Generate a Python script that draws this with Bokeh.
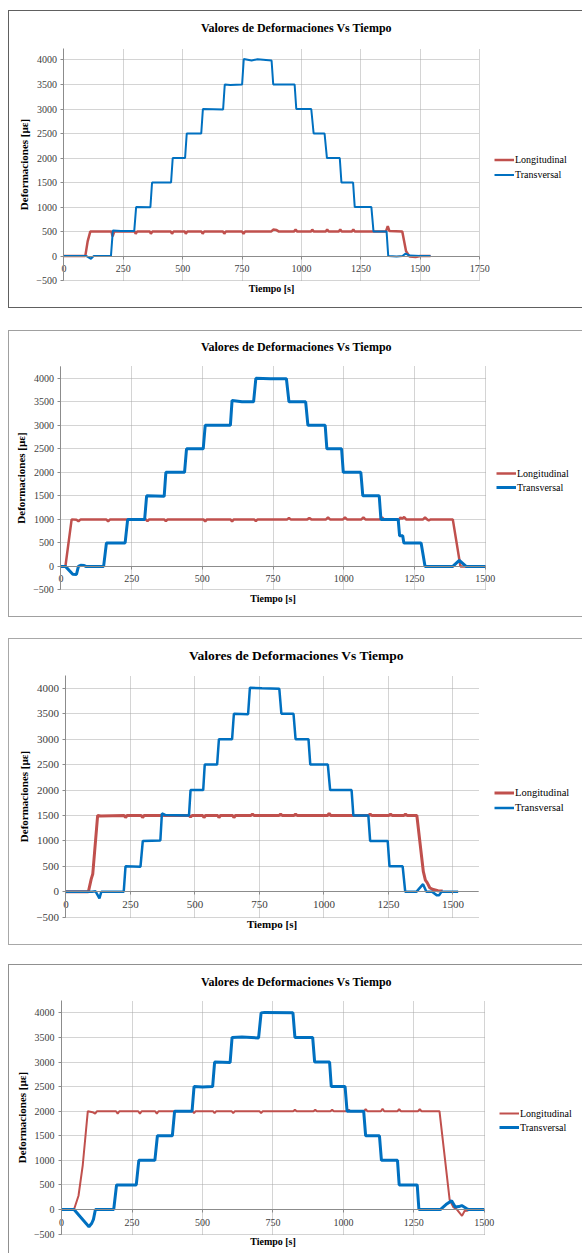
from bokeh.plotting import figure
from bokeh.models import Range1d, FixedTicker, Legend, LegendItem, Spacer
from bokeh.layouts import column, row
from bokeh.embed import file_html
from bokeh.resources import INLINE

TITLE = "Valores de Deformaciones Vs Tiempo"
X_LABEL = "Tiempo [s]"
Y_LABEL = "Deformaciones [µε]"
SERIES = ["Longitudinal", "Transversal"]
Y_TICKS = [-500, 0, 500, 1000, 1500, 2000, 2500, 3000, 3500, 4000]
X_TICKS_1 = [0, 250, 500, 750, 1000, 1250, 1500, 1750]
X_TICKS = [0, 250, 500, 750, 1000, 1250, 1500]

RED = "#C0504D"
BLUE = "#0070C0"
FONT = "Liberation Serif"

# ---------------- Panel 1 ----------------
p1_long_t = [0, 90, 100, 111, 200, 205, 212, 298, 302, 308, 362, 366, 372, 450, 455, 461, 509, 513, 519,
             579, 584, 590, 670, 675, 681, 750, 756, 762, 872, 881, 895, 905, 968, 975, 982, 1040, 1045,
             1052, 1102, 1108, 1114, 1157, 1163, 1169, 1212, 1218, 1224, 1355, 1363, 1370, 1424, 1440,
             1455, 1480, 1500, 1543]
p1_long_v = [0, 0, 300, 500, 500, 400, 500, 500, 455, 500, 500, 455, 500, 500, 455, 500, 500, 455, 500,
             500, 455, 500, 500, 455, 500, 500, 455, 500, 500, 540, 530, 500, 500, 540, 500, 500, 540,
             500, 500, 540, 500, 500, 540, 500, 500, 540, 500, 500, 610, 510, 500, 100,
             -10, -20, 0, 0]
p1_trans_t = [0, 95, 114, 125, 198, 206, 240, 296, 304, 364, 371, 451, 458, 510, 517, 578, 585, 670, 677,
              700, 750, 757, 790, 815, 874, 881, 971, 978, 1041, 1051, 1097, 1107, 1161, 1168, 1217, 1224,
              1294, 1303, 1358, 1365, 1400, 1425, 1438, 1455, 1500, 1543]
p1_trans_v = [0, 0, -55, 0, 0, 520, 510, 510, 1000, 995, 1500, 1500, 2000, 2000, 2500, 2500, 3000, 2990, 3500,
              3490, 3500, 4020, 3990, 4015, 3990, 3500, 3500, 3000, 3000, 2500, 2500, 2000, 2000, 1500, 1500, 1000,
              1000, 500, 500, 0, -10, 0, 50, 10, 0, 0]

# ---------------- Panel 2 ----------------
p2_long_t = [0, 16, 38, 55, 62, 70, 160, 167, 174, 300, 306, 312, 365, 371, 377, 504, 510, 516, 599, 605, 611,
             683, 689, 695, 800, 806, 812, 871, 878, 885, 937, 944, 951, 997, 1004, 1011, 1062, 1069, 1076,
             1128, 1135, 1142, 1196, 1200, 1206, 1213, 1220, 1280, 1287, 1294, 1300, 1307, 1385, 1412, 1500]
p2_long_v = [0, 0, 1000, 990, 960, 1000, 1000, 960, 1000, 1000, 960, 1000, 1000, 960, 1000, 1000, 955, 1000,
             1000, 955, 1000, 1000, 965, 1000, 1000, 1030, 1000, 1000, 1030, 1000, 1000, 1040, 1000, 1000, 1040,
             1000, 1000, 1040, 1000, 1000, 1040, 1000, 1000, 1040, 1010, 1050, 1000, 1000, 1040, 1000, 980, 1000,
             1000, 0, 0]
p2_trans_t = [0, 16, 42, 55, 62, 70, 82, 88, 151, 161, 227, 236, 296, 303, 365, 371, 437, 444, 503, 510, 599,
              605, 640, 681, 689, 740, 797, 806, 865, 873, 934, 940, 992, 998, 1060, 1067, 1125, 1131, 1192,
              1197, 1208, 1212, 1273, 1287, 1385, 1408, 1432, 1500]
p2_trans_v = [0, 0, -165, -170, 0, 25, 20, 0, 0, 500, 500, 1000, 1000, 1500, 1490, 2000, 2000, 2500, 2500, 3000,
              3000, 3530, 3500, 3500, 4000, 3990, 3990, 3500, 3500, 3000, 3000, 2500, 2500, 2000, 2000, 1500,
              1500, 1000, 1000, 650, 650, 500, 500, 0, 0, 130, 0, 0]

# ---------------- Panel 3 ----------------
p3_long_t = [0, 87, 98, 104, 123, 135, 226, 231, 237, 292, 297, 303, 477, 483, 489, 530, 535, 541, 588, 593,
             599, 646, 651, 657, 717, 723, 729, 826, 832, 838, 884, 890, 896, 1014, 1020, 1026, 1173, 1179,
             1185, 1252, 1258, 1264, 1310, 1316, 1322, 1360, 1385, 1393, 1400, 1410, 1420, 1442, 1460]
p3_long_v = [0, 0, 250, 350, 1500, 1490, 1500, 1460, 1500, 1500, 1460, 1500, 1500, 1470, 1500, 1500, 1460,
             1500, 1500, 1460, 1500, 1500, 1460, 1500, 1500, 1530, 1500, 1500, 1530, 1500, 1500, 1530, 1500,
             1500, 1540, 1500, 1500, 1530, 1500, 1500, 1530, 1500, 1500, 1530, 1500, 1500, 400, 230, 180, 80,
             50, 20, 15]
p3_trans_t = [0, 101, 115, 130, 137, 224, 231, 289, 298, 366, 372, 385, 477, 483, 532, 538, 586, 593, 644,
              651, 706, 713, 760, 827, 835, 882, 890, 940, 947, 1015, 1024, 1107, 1114, 1172, 1179, 1247,
              1254, 1305, 1315, 1358, 1384, 1397, 1419, 1438, 1446, 1455, 1520]
p3_trans_v = [0, 0, 10, -130, 0, 0, 500, 495, 1000, 1010, 1540, 1510, 1500, 2000, 2000, 2500, 2500, 3000,
              3000, 3500, 3490, 4010, 4000, 3990, 3500, 3500, 3000, 3000, 2500, 2500, 2000, 2000, 1500,
              1500, 1000, 1000, 500, 500, 0, 0, 150, 0, 0, -70, -70, 0, 0]

# ---------------- Panel 4 ----------------
p4_long_t = [0, 44, 60, 75, 93, 110, 119, 126, 193, 199, 205, 272, 278, 284, 332, 338, 344, 464, 470, 476,
             537, 543, 549, 603, 609, 615, 702, 708, 714, 822, 828, 834, 894, 900, 906, 954, 960, 966, 1013,
             1019, 1025, 1073, 1079, 1085, 1133, 1139, 1145, 1192, 1198, 1204, 1265, 1271, 1277, 1341, 1377,
             1390, 1403, 1421, 1430, 1443]
p4_long_v = [0, 0, 280, 900, 2000, 1980, 1950, 2000, 2000, 1950, 2000, 2000, 1950, 2000, 2000, 1950, 2000,
             2000, 1960, 2000, 2000, 1960, 2000, 2000, 1960, 2000, 2000, 1960, 2000, 2000, 2030, 2000, 2000,
             2030, 2000, 2000, 2030, 2000, 2000, 2030, 2000, 2000, 2040, 2000, 2000, 2050, 2000, 2000, 2040,
             2000, 2000, 2040, 2000, 2000, 200, 50, 0, -130, -30, -20]
p4_trans_t = [0, 44, 97, 107, 113, 120, 185, 195, 265, 274, 331, 340, 393, 401, 463, 470, 500, 536, 543, 598,
              605, 640, 699, 708, 720, 821, 828, 891, 898, 951, 957, 1006, 1013, 1072, 1079, 1128, 1135, 1192,
              1198, 1262, 1268, 1344, 1364, 1384, 1397, 1410, 1420, 1437, 1445, 1500]
p4_trans_v = [0, 0, -350, -280, -200, 0, 0, 500, 500, 1000, 1000, 1500, 1500, 2000, 2000, 2500, 2490, 2500,
              3000, 2990, 3500, 3510, 3490, 4000, 4010, 4000, 3500, 3500, 3000, 3000, 2500, 2500, 2000, 2000,
              1500, 1500, 1000, 1000, 500, 500, 0, 0, 100, 180, 50, 60, 80, 20, 0, 0]


def make(width, height, css, xr, yr, plot_xmax, plot_ymax, xticks, long_t, long_v, trans_t, trans_v,
         lw, leg_xy, leg_h, fs, title_standoff):
    p = figure(width=width, height=height, output_backend="svg", toolbar_location=None,
               x_range=Range1d(*xr), y_range=Range1d(*yr),
               min_border_left=0, min_border_right=0, min_border_top=25, min_border_bottom=0,
               outline_line_color=None, background_fill_color="white", border_fill_color="white",
               styles=css)
    tick_fs, title_fs, leg_fs, xl_fs, yl_fs = fs
    p.title.text = TITLE
    p.title.align = "center"
    p.title.text_font = FONT
    p.title.text_font_style = "bold"
    p.title.text_font_size = f"{title_fs}px"
    p.title.text_color = "#000000"
    p.title.standoff = title_standoff

    xg, yg = p.xgrid[0], p.ygrid[0]
    for g in (xg, yg):
        g.grid_line_color = "#a8a8a8"
        g.grid_line_dash = "1 1"
        g.grid_line_width = 1
    xg.ticker = FixedTicker(ticks=xticks)
    yg.ticker = FixedTicker(ticks=Y_TICKS)
    xg.cross_bounds = (Y_TICKS[0], plot_ymax)
    yg.cross_bounds = (0, plot_xmax)

    xa = p.xaxis[0]
    xa.ticker = FixedTicker(ticks=xticks)
    xa.fixed_location = 0
    xa.bounds = (0, plot_xmax)
    xa.axis_label = X_LABEL
    ya = p.yaxis[0]
    ya.ticker = FixedTicker(ticks=Y_TICKS)
    ya.fixed_location = 0
    ya.bounds = (Y_TICKS[0], plot_ymax)
    ya.axis_label = Y_LABEL
    for a in (xa, ya):
        a.axis_line_color = "#8c8c8c"
        a.major_tick_line_color = "#8c8c8c"
        a.major_tick_out = 3
        a.major_tick_in = 0
        a.minor_tick_line_color = None
        a.major_label_text_font = FONT
        a.major_label_text_font_size = f"{tick_fs}px"
        a.major_label_text_color = "#404040"
        a.axis_label_text_font = FONT
        a.axis_label_text_font_style = "bold"
        a.axis_label_text_color = "#000000"
    xa.axis_label_text_font_size = f"{xl_fs}px"
    ya.axis_label_text_font_size = f"{yl_fs}px"
    xa.major_label_standoff = 6
    xa.axis_label_standoff = 7
    ya.major_label_standoff = 4
    ya.axis_label_standoff = 3

    r1 = p.line(long_t, long_v, line_color=RED, line_width=lw[0])
    r2 = p.line(trans_t, trans_v, line_color=BLUE, line_width=lw[1])

    leg = Legend(items=[LegendItem(label=SERIES[0], renderers=[r1]),
                        LegendItem(label=SERIES[1], renderers=[r2])],
                 location=leg_xy, orientation="vertical",
                 border_line_color=None, background_fill_alpha=0,
                 padding=0, margin=0, spacing=0,
                 glyph_width=20, glyph_height=leg_h, label_height=leg_h, label_standoff=1,
                 label_text_font=FONT, label_text_font_size=f"{leg_fs}px", label_text_color="#000000")
    p.add_layout(leg)
    return p


def frame_css(color, bottom=True):
    css = {"border-top": f"1px solid {color}", "border-left": f"1px solid {color}"}
    if bottom:
        css["border-bottom"] = f"1px solid {color}"
    return css


# ranges chosen so that the plot area lands where the reference shows it
p1 = make(574, 298, frame_css("#606060"), (-228.9, 2186.7), (-1089.6, 4479), 1750, 4225, X_TICKS_1,
          p1_long_t, p1_long_v, p1_trans_t, p1_trans_v,
          (2.5, 2), (485, 127), 15, (10, 12, 10, 10, 11), 4)
p2 = make(574, 287, frame_css("#a0a0a0"), (-181.6, 1846.9), (-1108, 4464), 1500, 4250, X_TICKS,
          p2_long_t, p2_long_v, p2_trans_t, p2_trans_v,
          (2.5, 3), (487, 124), 14, (10, 12, 10, 10, 11), 5)
p3 = make(574, 307, frame_css("#a8a8a8"), (-218.6, 2005.8), (-1075, 4468), 1600, 4250, X_TICKS,
          p3_long_t, p3_long_v, p3_trans_t, p3_trans_v,
          (3, 2.5), (485, 131), 15, (11, 13.5, 10.5, 11, 11), 3)
p4 = make(574, 289, frame_css("#909090", bottom=False), (-184.9, 1852.1), (-915, 4455), 1500, 4250, X_TICKS,
          p4_long_t, p4_long_v, p4_trans_t, p4_trans_v,
          (2, 3), (490, 120), 14, (10, 12, 10, 10, 11), 3)

col = column(Spacer(height=10), p1, Spacer(height=22), p2, Spacer(height=21), p3, Spacer(height=19), p4)
layout = row(Spacer(width=8), col)

open("out.html", "w").write(file_html(layout, INLINE))
